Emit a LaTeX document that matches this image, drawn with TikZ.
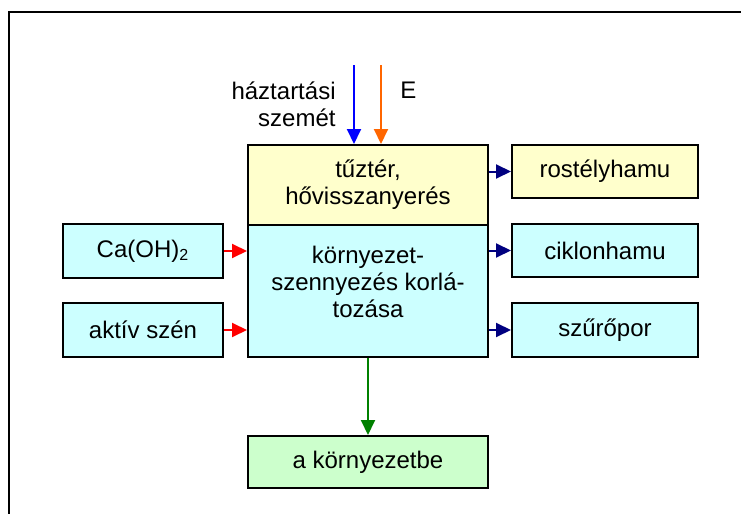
\documentclass[tikz,border=0pt]{standalone}
\usepackage{fontspec}
\setmainfont{Liberation Sans}
\usetikzlibrary{arrows.meta}
\definecolor{byellow}{HTML}{FFFFCC}
\definecolor{bcyan}{HTML}{CCFFFF}
\definecolor{bgreen}{HTML}{CCFFCC}
\definecolor{aorange}{HTML}{FF6600}
\definecolor{anavy}{HTML}{000080}
\definecolor{agreen}{HTML}{008000}
\tikzset{
  box/.style={draw=black, line width=1pt, inner sep=0pt, align=center},
  flow/.style={line width=1pt, -{Triangle[length=7.5pt,width=7pt]}},
  txt/.style={inner sep=0pt, align=center}
}
\begin{document}
\begin{tikzpicture}[x=0.5pt,y=-0.5pt, font=\fontsize{12}{13.6}\selectfont]
\useasboundingbox (0,0) rectangle (741,514);
\draw[line width=1pt] (9,514) -- (9,12) -- (741,12);
% main boxes
\node[box, fill=byellow, minimum width=120pt, minimum height=40pt] (fire) at (368,185) {t\H{u}ztér,\\hővisszanyerés};
\node[box, fill=bcyan, minimum width=120pt, minimum height=66pt] (env) at (368,291) {};
\node[txt] (envtext) at (368,282) {környezet-\\szennyezés korlá-\\tozása};
% left boxes
\node[box, fill=bcyan, minimum width=80pt, minimum height=27pt] (lime) at (143,251) {Ca(OH)\textsubscript{2}};
\node[box, fill=bcyan, minimum width=80pt, minimum height=27pt] (carbon) at (143,330) {aktív szén};
% right boxes
\node[box, fill=byellow, minimum width=93pt, minimum height=26.5pt] (rost) at (605,171.5) {rostélyhamu};
\node[box, fill=bcyan, minimum width=93pt, minimum height=26.5pt] (cikl) at (605,250.5) {ciklonhamu};
\node[box, fill=bcyan, minimum width=93pt, minimum height=27pt] (szuro) at (605,330) {sz\H{u}rőpor};
% bottom box
\node[box, fill=bgreen, minimum width=120pt, minimum height=26pt] (out) at (368,462) {a környezetbe};
% top inputs
\coordinate (waste) at (354,65);
\coordinate (energy) at (381,65);
\node[txt, anchor=east, align=right] (wastetext) at (336,104) {háztartási\\szemét};
\node[txt, anchor=west] (etext) at (400,90) {E};
\draw[flow, blue] (waste) -- (waste |- fire.north);
\draw[flow, aorange] (energy) -- (energy |- fire.north);
% left inputs
\draw[flow, red] (lime.east) -- (lime.east -| env.west);
\draw[flow, red] (carbon.east) -- (carbon.east -| env.west);
% right outputs
\draw[flow, anavy] (rost.west -| fire.east) -- (rost.west);
\draw[flow, anavy] (cikl.west -| env.east) -- (cikl.west);
\draw[flow, anavy] (szuro.west -| env.east) -- (szuro.west);
% bottom output
\draw[flow, agreen] (env.south) -- (out.north);
\end{tikzpicture}
\end{document}
